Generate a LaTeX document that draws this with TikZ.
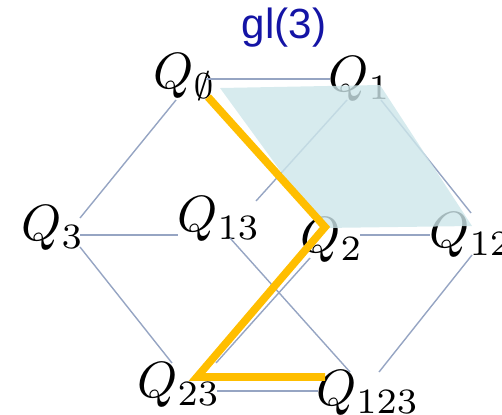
\documentclass[tikz,border=0pt]{standalone}
\usepackage{amsmath,amssymb}
\usepackage{xcolor}
\usepackage{fontspec}
\newfontfamily\titlefont{Liberation Sans}
\usepackage{tikz}
\definecolor{edgeblue}{RGB}{150,165,195}
\definecolor{sheet}{RGB}{205,230,234}
\definecolor{pathgold}{RGB}{255,190,0}
\definecolor{titleblue}{RGB}{20,20,165}

\begin{document}
\begin{tikzpicture}[
  x=0.02cm, y=-0.02cm,
  q/.style={inner sep=0pt, scale=2.9, transform shape},
  edge/.style={draw=edgeblue, line width=0.8pt},
  hl/.style={draw=pathgold, line width=4.4pt, line join=miter}
]
\useasboundingbox (0,0) rectangle (502,414);

\node[inner sep=0pt, text=titleblue, font=\titlefont\fontsize{24}{28}\selectfont] (title) at (284,28) {gl(3)};

\node[q] (q0) at (185,77) {$Q_{\emptyset}$};
\node[q] (q1) at (360,79) {$Q_{1}$};
\node[q] (q3) at (53,228) {$Q_{3}$};
\node[q] (q13) at (219,219) {$Q_{13}$};
\node[q] (q2) at (332,240) {$Q_{2}$};
\node[q] (q12) at (471,235) {$Q_{12}$};
\node[q] (q23) at (179,385) {$Q_{23}$};
\node[q] (q123) at (368,393) {$Q_{123}$};

\draw[edge] ([shift={(21,2)}]q0.center) -- ([shift={(-30,0)}]q1.center);
\draw[edge] ([shift={(-9,23)}]q0.center) -- ([shift={(27,-10)}]q3.center);
\draw[edge] ([shift={(-13,21)}]q1.center) -- ([shift={(37,-18)}]q13.center);
\draw[edge] ([shift={(21,21)}]q1.center) -- ([shift={(0,-22)}]q12.center);
\draw[edge] ([shift={(27,7)}]q3.center) -- ([shift={(-41,16)}]q13.center);
\draw[edge] ([shift={(27,19)}]q3.center) -- ([shift={(-7,-22)}]q23.center);
\draw[edge] ([shift={(11,19)}]q13.center) -- ([shift={(-18,-21)}]q123.center);
\draw[edge] ([shift={(28,-5)}]q2.center) -- ([shift={(-41,0)}]q12.center);
\draw[edge] ([shift={(-22,18)}]q2.center) -- ([shift={(37,-22)}]q23.center);
\draw[edge] ([shift={(1,20)}]q12.center) -- ([shift={(11,-21)}]q123.center);
\draw[edge] ([shift={(38,6)}]q23.center) -- ([shift={(-50,-2)}]q123.center);

\coordinate (s1) at (220,88);
\coordinate (s2) at (380,85);
\coordinate (s3) at (472,226);
\coordinate (s4) at (322,228);
\fill[sheet, fill opacity=0.8] (s1) -- (s2) -- (s3) -- (s4) -- cycle;

\coordinate (h0) at (208,97);
\coordinate (h1) at (325,227);
\coordinate (h2) at (197,377);
\coordinate (h3) at (325,377);
\draw[hl] (h0) -- (h1) -- (h2) -- (h3);
\end{tikzpicture}
\end{document}
